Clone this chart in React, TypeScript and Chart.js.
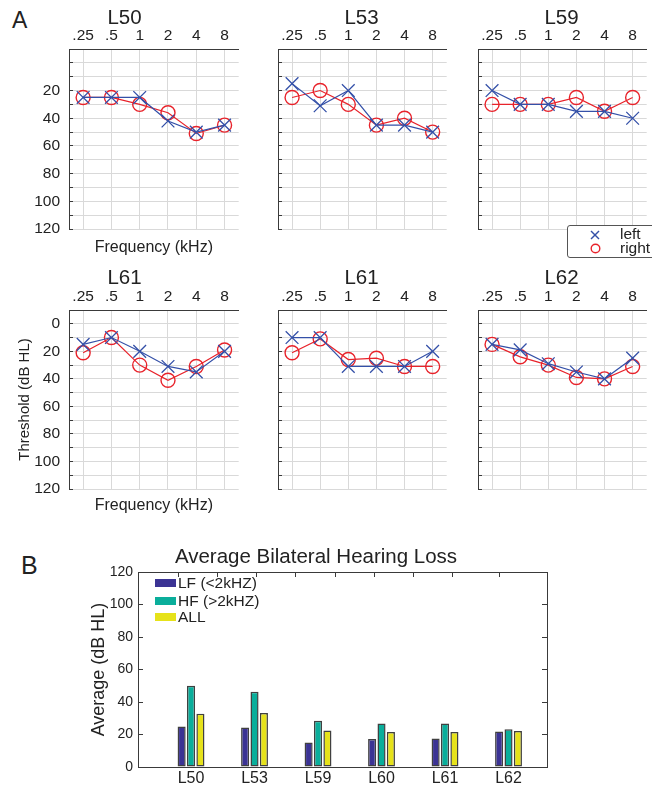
import React, { useEffect, useRef } from 'react';
import { Chart, registerables } from 'chart.js';

Chart.register(...registerables);

// ---------------- data ----------------
const frequencyLabels = ['.25', '.5', '1', '2', '4', '8'];
const panelTitles = ['L50', 'L53', 'L59', 'L61', 'L61', 'L62'];

const leftL50 = [25, 25, 25, 42, 50, 45];
const leftL53 = [15, 31, 20, 45, 45, 50];
const leftL59 = [20, 30, 30, 35, 35, 40];
const leftL61a = [15, 10, 20, 31, 35, 20];
const leftL61b = [10, 10, 31, 31, 31, 20];
const leftL62 = [15, 19, 29, 35, 40, 25];

const rightL50 = [25, 25, 30, 36, 51, 45];
const rightL53 = [25, 20, 30, 45, 40, 50];
const rightL59 = [30, 30, 30, 25, 35, 25];
const rightL61a = [21, 10, 30, 41, 31, 19];
const rightL61b = [21, 11, 26, 25, 31, 31];
const rightL62 = [15, 24, 30, 39, 40, 31];

const leftEar = [leftL50, leftL53, leftL59, leftL61a, leftL61b, leftL62];
const rightEar = [rightL50, rightL53, rightL59, rightL61a, rightL61b, rightL62];

const subjects = ['L50', 'L53', 'L59', 'L60', 'L61', 'L62'];
const lowFreqAvg = [25, 24.3, 15.1, 17.3, 17.6, 21.8];
const highFreqAvg = [50, 46.3, 28.4, 26.7, 26.7, 23.3];
const allFreqAvg = [32.7, 33.3, 22.4, 21.6, 21.6, 22.2];
const seriesNames = ['LF (<2kHZ)', 'HF (>2kHZ)', 'ALL'];

// ---------------- styles ----------------
const FONT = '"Liberation Sans", Arial, Helvetica, sans-serif';
const TEXT = '#222222';
const AXIS = '#3a3a3a';
const GRID = '#d9d9d9';
const BLUE = '#3450a8';
const RED = '#e8232b';
const barColors = ['#3b3394', '#0aae9b', '#e6e21a'];
const barSeries = [lowFreqAvg, highFreqAvg, allFreqAvg];

const COLS = [
  { canvasLeft: 0, plotLeft: 69, plotRight: 249 },
  { canvasLeft: 266, plotLeft: 278, plotRight: 457 },
  { canvasLeft: 466, plotLeft: 478, plotRight: 657 },
];
const ROWS = [
  { canvasTop: 0, plotTop: 49, plotBottom: 229, canvasBottom: 260, freqPb: 3.4, minLabel: 20 },
  { canvasTop: 260, plotTop: 310, plotBottom: 489, canvasBottom: 520, freqPb: 5.4, minLabel: 0 },
];

function Audiogram({ idx }: { idx: number }) {
  const ref = useRef<HTMLCanvasElement>(null);
  const col = idx % 3;
  const row = Math.floor(idx / 3);
  const C = COLS[col];
  const R = ROWS[row];
  const width = C.plotRight - C.canvasLeft;
  const height = R.canvasBottom - R.canvasTop;
  const titleLH = 20.5 * 1.2;
  const topAxisH = 19;
  const titlePb = R.plotTop - R.canvasTop - topAxisH - 6 - titleLH;

  useEffect(() => {
    const chart = new Chart(ref.current as HTMLCanvasElement, {
      type: 'line',
      data: {
        labels: frequencyLabels,
        datasets: [
          {
            label: 'left',
            data: leftEar[idx],
            borderColor: BLUE,
            backgroundColor: BLUE,
            borderWidth: 1.2,
            pointStyle: 'crossRot',
            pointRadius: 9,
            pointBorderWidth: 1.3,
            pointBorderColor: BLUE,
            pointBackgroundColor: BLUE,
            fill: false,
            tension: 0,
          },
          {
            label: 'right',
            data: rightEar[idx],
            borderColor: RED,
            backgroundColor: 'rgba(0,0,0,0)',
            borderWidth: 1.2,
            pointStyle: 'circle',
            pointRadius: 7,
            pointBorderWidth: 1.4,
            pointBorderColor: RED,
            pointBackgroundColor: 'rgba(0,0,0,0)',
            fill: false,
            tension: 0,
          },
        ],
      },
      options: {
        responsive: false,
        animation: false,
        devicePixelRatio: 1,
        layout: { padding: 0 },
        plugins: {
          legend: { display: false },
          tooltip: { enabled: false },
          title: {
            display: true,
            text: panelTitles[idx],
            color: TEXT,
            font: { family: FONT, size: 20.5, weight: 'normal' },
            padding: { top: 6, bottom: titlePb },
          },
        },
        scales: {
          x: {
            type: 'category',
            position: 'top',
            offset: true,
            grid: { color: GRID, offset: false, drawTicks: false, lineWidth: 1 },
            border: { color: AXIS, width: 1 },
            ticks: {
              color: TEXT,
              font: { family: FONT, size: 15.5 },
              padding: 4,
              autoSkip: false,
              maxRotation: 0,
            },
            afterFit: (s: any) => {
              s.height = topAxisH;
            },
          },
          xb: {
            type: 'category',
            position: 'bottom',
            grid: { display: false },
            border: { display: false },
            ticks: { display: false },
            title: {
              display: col === 0,
              text: 'Frequency (kHz)',
              color: TEXT,
              font: { family: FONT, size: 16 },
              padding: { top: 0, bottom: R.freqPb - 1 },
            },
            afterFit: (s: any) => {
              s.height = R.canvasBottom - R.plotBottom;
            },
          },
          y: {
            type: 'linear',
            position: 'left',
            reverse: true,
            min: -10,
            max: 120,
            grid: { color: GRID, tickColor: AXIS, tickLength: -4, drawTicks: true, lineWidth: 1 },
            border: { color: AXIS, width: 1 },
            ticks: {
              display: col === 0,
              stepSize: 10,
              autoSkip: false,
              padding: 13,
              color: TEXT,
              font: { family: FONT, size: 15.5 },
              callback: (v: any) => (v % 20 === 0 && v >= R.minLabel ? String(v) : ''),
            },
            title: {
              display: idx === 3,
              text: 'Threshold (dB HL)',
              color: TEXT,
              font: { family: FONT, size: 15 },
              padding: { top: 16, bottom: 0 },
            },
            afterFit: (s: any) => {
              s.width = C.plotLeft - C.canvasLeft;
            },
          },
        },
      } as any,
    });
    return () => chart.destroy();
  }, []);

  return (
    <canvas
      ref={ref}
      width={width}
      height={height}
      style={{ position: 'absolute', left: C.canvasLeft, top: R.canvasTop, width, height, display: 'block' }}
    />
  );
}

function EarLegend() {
  return (
    <div
      style={{
        position: 'absolute',
        left: 567,
        top: 225,
        width: 100,
        height: 33,
        boxSizing: 'border-box',
        border: '1px solid #555',
        borderRadius: 3,
        background: '#fff',
      }}
    >
      <svg width={10} height={10} style={{ position: 'absolute', left: 22, top: 4 }}>
        <line x1={1} y1={1} x2={9} y2={9} stroke={BLUE} strokeWidth={1.4} />
        <line x1={9} y1={1} x2={1} y2={9} stroke={BLUE} strokeWidth={1.4} />
      </svg>
      <svg width={11} height={11} style={{ position: 'absolute', left: 22, top: 17 }}>
        <circle cx={5.5} cy={5.5} r={4.3} fill="none" stroke={RED} strokeWidth={1.4} />
      </svg>
      <div style={{ position: 'absolute', left: 52, top: 0, fontSize: 15.5, lineHeight: '16px' }}>left</div>
      <div style={{ position: 'absolute', left: 52, top: 14, fontSize: 15.5, lineHeight: '16px' }}>right</div>
    </div>
  );
}

const BAR = { canvasLeft: 80, canvasTop: 540, width: 472, height: 248, plotLeft: 138, plotRight: 547, plotTop: 572, plotBottom: 767 };

function BarChartB() {
  const ref = useRef<HTMLCanvasElement>(null);
  useEffect(() => {
    const titleLH = 20.5 * 1.2;
    const chart = new Chart(ref.current as HTMLCanvasElement, {
      type: 'bar',
      data: {
        labels: subjects.map((_, i) => i + 1),
        datasets: seriesNames.map((name, k) => ({
          label: name,
          data: barSeries[k],
          backgroundColor: barColors[k],
          borderColor: '#404040',
          borderWidth: 1.5,
          borderSkipped: false,
          categoryPercentage: 0.444,
          barPercentage: 0.86,
        })),
      },
      options: {
        responsive: false,
        animation: false,
        devicePixelRatio: 1,
        layout: { padding: 0 },
        plugins: {
          legend: { display: false },
          tooltip: { enabled: false },
          title: {
            display: true,
            text: 'Average Bilateral Hearing Loss',
            color: TEXT,
            font: { family: FONT, size: 20.5, weight: 'normal' },
            padding: { top: 5, bottom: BAR.plotTop - BAR.canvasTop - 5 - titleLH },
          },
        },
        scales: {
          x: {
            type: 'linear',
            position: 'bottom',
            offset: false,
            min: 0.165,
            max: 6.606,
            afterBuildTicks: (s: any) => {
              s.ticks = subjects.map((_, i) => ({ value: i + 1 }));
            },
            grid: { display: true, drawOnChartArea: false, drawTicks: false, offset: false },
            border: { color: AXIS, width: 1 },
            ticks: {
              color: TEXT,
              font: { family: FONT, size: 16 },
              padding: 2,
              autoSkip: false,
              maxRotation: 0,
              callback: (v: any) => subjects[Math.round(v) - 1] ?? '',
            },
            afterFit: (s: any) => {
              s.height = BAR.canvasTop + BAR.height - BAR.plotBottom;
            },
          },
          xt: {
            type: 'linear',
            position: 'top',
            min: 0,
            max: 9.38,
            grid: { drawOnChartArea: false, drawTicks: true, tickLength: -5, tickColor: AXIS },
            border: { color: AXIS, width: 1 },
            ticks: { display: false, stepSize: 1 },
            afterFit: (s: any) => {
              s.height = 0;
            },
          },
          y: {
            type: 'linear',
            position: 'left',
            min: 0,
            max: 120,
            grid: { drawOnChartArea: false, drawTicks: true, tickLength: -5, tickColor: AXIS },
            border: { color: AXIS, width: 1 },
            ticks: {
              stepSize: 20,
              autoSkip: false,
              padding: 10,
              color: TEXT,
              font: { family: FONT, size: 14 },
            },
            title: {
              display: true,
              text: 'Average (dB HL)',
              color: TEXT,
              font: { family: FONT, size: 18 },
              padding: { top: 8.2, bottom: 0 },
            },
            afterFit: (s: any) => {
              s.width = BAR.plotLeft - BAR.canvasLeft;
            },
          },
          yr: {
            type: 'linear',
            position: 'right',
            min: 0,
            max: 120,
            grid: { drawOnChartArea: false, drawTicks: true, tickLength: -5, tickColor: AXIS },
            border: { color: AXIS, width: 1 },
            ticks: { display: false, stepSize: 20 },
            afterFit: (s: any) => {
              s.width = BAR.canvasLeft + BAR.width - BAR.plotRight;
            },
          },
        },
      } as any,
    });
    return () => chart.destroy();
  }, []);
  return (
    <canvas
      ref={ref}
      width={BAR.width}
      height={BAR.height}
      style={{ position: 'absolute', left: BAR.canvasLeft, top: BAR.canvasTop, width: BAR.width, height: BAR.height, display: 'block' }}
    />
  );
}

function BarLegend() {
  const rowCenters = [583, 600.5, 617];
  return (
    <>
      {seriesNames.map((name, k) => (
        <React.Fragment key={name}>
          <div
            style={{
              position: 'absolute',
              left: 155,
              top: rowCenters[k] - 4,
              width: 21,
              height: 8,
              background: barColors[k],
            }}
          />
          <div
            style={{
              position: 'absolute',
              left: 178,
              top: rowCenters[k] - 9,
              fontSize: 15.5,
              lineHeight: '18px',
              whiteSpace: 'nowrap',
            }}
          >
            {name}
          </div>
        </React.Fragment>
      ))}
    </>
  );
}

export default function App() {
  return (
    <div
      style={{
        position: 'absolute',
        left: 0,
        top: 0,
        width: 652,
        height: 788,
        overflow: 'hidden',
        background: '#ffffff',
        fontFamily: FONT,
        color: TEXT,
      }}
    >
      <div style={{ position: 'absolute', left: 12, top: 9, fontSize: 23, lineHeight: '23px' }}>A</div>
      {panelTitles.map((_, i) => (
        <Audiogram key={i} idx={i} />
      ))}
      <EarLegend />
      <div style={{ position: 'absolute', left: 21, top: 553, fontSize: 25, lineHeight: '25px' }}>B</div>
      <BarChartB />
      <BarLegend />
    </div>
  );
}
